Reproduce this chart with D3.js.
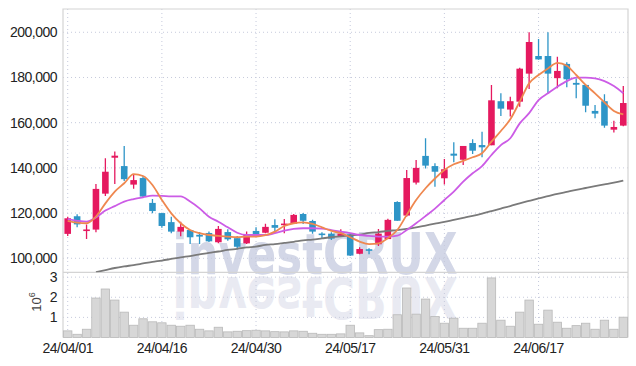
<!DOCTYPE html>
<html><head><meta charset="utf-8">
<script src="https://cdn.jsdelivr.net/npm/d3@7"></script>
<style>body{margin:0;background:#fff}svg{display:block}</style>
</head><body><svg id="c" width="636" height="366"></svg>
<script>
const dates = ["24/04/01","24/04/02","24/04/03","24/04/04","24/04/05","24/04/08","24/04/09","24/04/11","24/04/12","24/04/15",
"24/04/16","24/04/17","24/04/18","24/04/19","24/04/22","24/04/23","24/04/24","24/04/25","24/04/26","24/04/29",
"24/04/30","24/05/02","24/05/03","24/05/07","24/05/08","24/05/09","24/05/10","24/05/13","24/05/14","24/05/16",
"24/05/17","24/05/20","24/05/21","24/05/22","24/05/23","24/05/24","24/05/27","24/05/28","24/05/29","24/05/30",
"24/05/31","24/06/03","24/06/04","24/06/05","24/06/07","24/06/10","24/06/11","24/06/12","24/06/13","24/06/14",
"24/06/17","24/06/18","24/06/19","24/06/20","24/06/21","24/06/24","24/06/25","24/06/26","24/06/27","24/06/28"];
const open = [110800,118600,112100,112700,128600,144500,140800,132600,135500,124500,
120000,116000,111800,112500,110400,111200,107100,111600,108900,106600,
112100,111300,114700,114900,115300,119600,116500,110900,110900,109600,
110600,102000,103800,106200,108500,124900,118900,133500,145300,140800,
135400,146300,143600,151000,150100,150000,169500,165800,169300,181700,
189500,189500,179700,186000,177600,176700,165200,169500,156900,158700];
const close = [117700,115000,112700,130700,138300,145400,135000,134600,127300,120900,
114300,111800,113900,109300,109600,107500,113000,108400,105100,110600,
110000,113900,113500,115100,119200,116600,111800,110300,108700,110900,
101200,104100,103500,110900,117000,116600,135500,140000,141000,138300,
139400,145400,149700,147600,149100,169900,166200,169500,183900,195700,
188000,181700,182900,179200,176800,167500,164000,158700,158100,168700];
const high = [118400,119500,114900,132900,144300,147200,149700,136900,136400,126200,
120100,118400,116200,112500,111600,111800,114300,112800,109900,111800,
113700,115300,117300,117400,119600,120000,117100,111500,111500,112800,
110900,104900,104400,113000,117500,125200,139100,143500,153100,142000,
143900,151300,149700,152700,156000,176700,173000,171500,184300,200000,
197000,200000,189200,186700,179600,176700,167800,172600,160900,176200];
const low = [109900,113700,108500,111500,127600,132900,134200,130800,127000,119900,
113500,111100,109700,106300,106300,107200,106600,107800,104000,106300,
109600,111100,111300,111100,115300,115200,110900,108500,108100,109600,
101000,101800,101800,105400,108500,116600,118400,132700,139700,131700,
132700,142500,141300,146100,144700,150000,163000,162700,167000,174900,
187900,173000,175200,175700,170800,164600,162000,157800,155700,158400];
const volume = [330000,160000,410000,1960000,2410000,1860000,1260000,610000,930000,780000,
730000,610000,560000,610000,410000,330000,510000,280000,310000,340000,
360000,330000,290000,280000,330000,310000,210000,160000,160000,180000,
610000,230000,90000,390000,410000,1130000,2460000,1160000,1910000,1040000,
710000,960000,460000,460000,710000,2960000,860000,560000,1260000,1860000,
660000,1360000,760000,460000,590000,710000,410000,860000,410000,1010000];
const ma5 = [116600,115800,115500,118400,124300,129500,133200,137200,136400,132400,
125800,119900,115500,112500,111100,110300,109900,109600,109300,109600,
109600,110200,111800,114300,115500,115900,115200,113700,112100,111100,
109300,107400,106300,106600,108900,112500,119200,125800,131000,135300,
139100,141600,143100,144700,146500,151600,156300,161500,169300,177400,
181100,184000,186500,185200,181100,176700,173000,169000,165200,163700];
const ma20 = [117300,116600,116200,118100,121100,123100,125100,126200,127000,127700,
127600,127400,127400,125100,122100,118400,116200,113700,111300,110300,
110300,110300,111100,112200,113000,113300,113300,113100,112500,111800,
111100,110300,109900,109600,109600,110000,112500,115500,118700,122000,
125800,129500,133900,137600,140800,145700,150100,153100,159700,164200,
170000,173000,175900,178400,179900,179900,179600,178400,176200,173000];
const ma120 = [null,null,null,93900,94800,95700,96400,97000,97700,98400,
99000,99700,100400,101000,101700,102400,103000,103700,104200,104800,
105200,105900,106300,106800,107300,107900,108300,108800,109300,109700,
110100,110500,111200,111600,112100,112500,113000,113700,114500,115300,
116100,117000,117900,118800,119800,120900,122000,123100,124300,125400,
126500,127500,128500,129400,130300,131100,131900,132700,133500,134400];
const priceTicks = [100000,120000,140000,160000,180000,200000];
const volTicks = [1000000,2000000,3000000];
const dateTicks = ["24/04/01","24/04/16","24/04/30","24/05/17","24/05/31","24/06/17"];

const svg = d3.select("#c");
const L = 63, R = 628, T = 9, PB = 272.3, VB = 337.5;
const x = d3.scaleBand().domain(dates).range([L, R]).padding(0);
const bw = x.bandwidth();
const cx = d => x(d) + bw / 2;
const y = d3.scaleLinear().domain([93800, 210300]).range([PB, T]);
const yv = d3.scaleLinear().domain([0, 3240000]).range([VB, PB]);

const UP = "#e5195f", DOWN = "#2e95c7", GRID = "#c6cadc", FRAME = "#d4d4d4";
const FONT = "'Liberation Sans', Arial, sans-serif";

svg.append("defs").append("clipPath").attr("id", "pc")
  .append("rect").attr("x", L).attr("y", T).attr("width", R - L).attr("height", PB - T);

// watermark
const wm = svg.append("g").attr("font-family", "'DejaVu Sans', sans-serif").attr("font-weight", "bold")
  .attr("text-anchor", "middle").attr("font-size", 57);
wm.append("text").attr("x", 315).attr("y", 274).attr("textLength", 285).attr("lengthAdjust", "spacingAndGlyphs")
  .attr("fill", "#d3d7e7").text("investCRUX");
wm.append("text").attr("x", 315).attr("y", 274).attr("textLength", 285).attr("lengthAdjust", "spacingAndGlyphs")
  .attr("transform", "translate(0,551) scale(1,-1)").attr("fill", "#e9eaf2").text("investCRUX");

// grid
const grid = svg.append("g").attr("stroke", GRID).attr("stroke-width", 1).attr("stroke-dasharray", "1,3");
grid.selectAll(".gx").data(dateTicks).join("line")
  .attr("x1", d => cx(d)).attr("x2", d => cx(d)).attr("y1", T).attr("y2", VB);
grid.selectAll(".gy").data(priceTicks).join("line").attr("class", "gy")
  .attr("x1", L).attr("x2", R).attr("y1", d => y(d)).attr("y2", d => y(d));
grid.selectAll(".gv").data(volTicks).join("line").attr("class", "gv")
  .attr("x1", L).attr("x2", R).attr("y1", d => yv(d)).attr("y2", d => yv(d));

// frame
const fr = svg.append("g").attr("stroke", FRAME).attr("stroke-width", 1.2).attr("fill", "none");
fr.append("path").attr("d", `M${L},${VB}V${T}H${R}V${VB}`);
fr.append("line").attr("x1", L).attr("x2", R).attr("y1", PB).attr("y2", PB);

// volume bars
svg.append("g").selectAll("rect").data(dates).join("rect")
  .attr("x", d => x(d) + 0.5).attr("width", bw - 1)
  .attr("y", (d, i) => yv(volume[i])).attr("height", (d, i) => VB - yv(volume[i]))
  .attr("fill", "#d7d7d7").attr("stroke", "#b9b9b9").attr("stroke-width", 0.8);

// candles
const pg = svg.append("g").attr("clip-path", "url(#pc)");
const cg = pg.append("g");
dates.forEach((d, i) => {
  const c = close[i] >= open[i] ? UP : DOWN;
  cg.append("line").attr("x1", cx(d)).attr("x2", cx(d)).attr("y1", y(high[i])).attr("y2", y(low[i]))
    .attr("stroke", c).attr("stroke-width", 1.3);
  const yt = y(Math.max(open[i], close[i])), yb = y(Math.min(open[i], close[i]));
  const h = Math.max(yb - yt, 1.6);
  cg.append("rect").attr("x", cx(d) - bw * 0.35).attr("width", bw * 0.7)
    .attr("y", (yt + yb) / 2 - h / 2).attr("height", h).attr("fill", c);
});

// moving averages
const mk = arr => d3.line().defined(v => v != null).x((v, i) => cx(dates[i])).y(v => y(v)).curve(d3.curveMonotoneX)(arr);
pg.append("path").attr("d", mk(ma120)).attr("fill", "none").attr("stroke", "#7a7a7a").attr("stroke-width", 1.8);
pg.append("path").attr("d", mk(ma20)).attr("fill", "none").attr("stroke", "#cc5ce6").attr("stroke-width", 1.8);
pg.append("path").attr("d", mk(ma5)).attr("fill", "none").attr("stroke", "#ef8850").attr("stroke-width", 1.8);

// axes
const styleAxis = g => {
  g.select(".domain").remove();
  g.selectAll("line").remove();
  g.selectAll("text").attr("font-family", FONT).attr("font-size", 14).attr("fill", "#222")
    .attr("letter-spacing", "-0.5px");
};
svg.append("g").attr("transform", `translate(${L},0)`)
  .call(d3.axisLeft(y).tickValues(priceTicks).tickSize(0).tickPadding(6).tickFormat(d3.format(",")))
  .call(styleAxis);
svg.append("g").attr("transform", `translate(${L},0)`)
  .call(d3.axisLeft(yv).tickValues(volTicks).tickSize(0).tickPadding(6).tickFormat(d => d / 1e6))
  .call(styleAxis);
svg.append("g").attr("transform", `translate(0,${VB})`)
  .call(d3.axisBottom(x).tickValues(dateTicks).tickSize(0).tickPadding(6))
  .call(styleAxis);

// volume unit label
const ul = svg.append("text").attr("transform", "translate(41,302) rotate(-90)").attr("text-anchor", "middle")
  .attr("font-family", FONT).attr("font-size", 13).attr("fill", "#444");
ul.append("tspan").text("10");
ul.append("tspan").attr("dy", -6).attr("font-size", 9).text("6");
</script>
</body></html>
